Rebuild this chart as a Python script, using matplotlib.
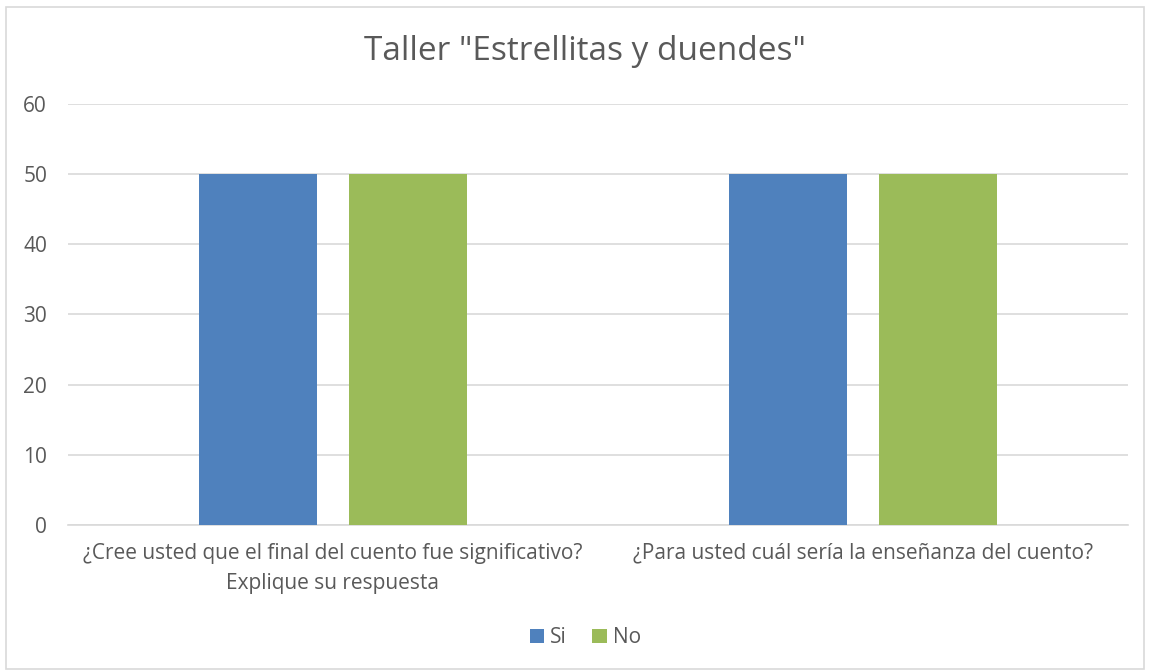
import matplotlib
matplotlib.use('Agg')
import matplotlib.pyplot as plt
import numpy as np

plt.rcParams['font.family'] = ['Open Sans', 'DejaVu Sans']

categorias = ['¿Cree usted que el final del cuento fue significativo?\nExplique su respuesta',
              '¿Para usted cuál sería la enseñanza del cuento?']
si = [50, 50]
no = [50, 50]

gris = '#595959'
fig = plt.figure(figsize=(11.5, 6.72), dpi=100)
fig.patches.append(plt.Rectangle((0.005, 0.005), 0.99, 0.985, transform=fig.transFigure,
                                 fill=False, edgecolor='#D9D9D9', linewidth=1.2))
ax = fig.add_axes([0.059, 0.219, 0.922, 0.626])

x = np.arange(len(categorias))
w = 0.223
ax.bar(x - 0.1415, si, w, color='#4F81BD', label='Si', zorder=3)
ax.bar(x + 0.1415, no, w, color='#9BBB59', label='No', zorder=3)

ax.set_xlim(-0.5, 1.5)
ax.set_ylim(0, 60)
ax.set_yticks(range(0, 61, 10))
ax.yaxis.grid(True, color='#D9D9D9', linewidth=1.2, zorder=0)
for s in ['top', 'right', 'left']:
    ax.spines[s].set_visible(False)
ax.spines['bottom'].set_color('#D9D9D9')
ax.spines['bottom'].set_linewidth(1.2)
ax.tick_params(axis='both', length=0, colors=gris, labelsize=15)
ax.tick_params(axis='y', pad=15)
ax.tick_params(axis='x', pad=13)
ax.set_xticks(x)
ax.set_xticklabels(categorias, color=gris, linespacing=1.6)

fig.text(0.509, 0.924, 'Taller "Estrellitas y duendes"', ha='center', va='center',
         fontsize=24, color=gris)
fig.legend(loc='center', bbox_to_anchor=(0.509, 0.051), ncol=2, frameon=False,
           fontsize=15, handlelength=0.7, handleheight=0.7, handletextpad=0.3,
           columnspacing=1.2, labelcolor=gris)

fig.savefig('out.png', dpi=100)
